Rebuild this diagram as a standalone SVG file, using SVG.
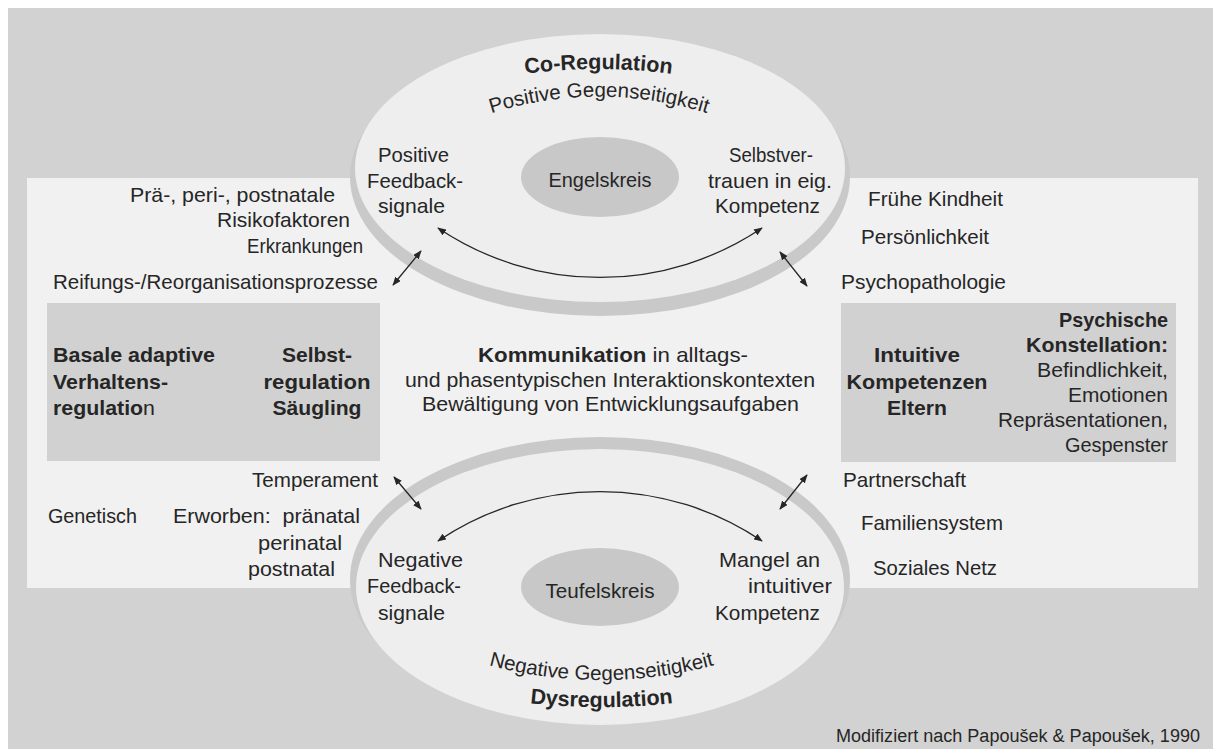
<svg xmlns="http://www.w3.org/2000/svg" width="1213" height="749" viewBox="0 0 1213 749">
<style>
  text { font-family: "Liberation Sans", Arial, sans-serif; fill: #262626; font-size: 21px; }
  .b { font-weight: bold; font-size: 21px; }
  .m { text-anchor: middle; }
  .e { text-anchor: end; }
  .ring { fill: #c9c9c9; }
  .disc { fill: #eeeeee; }
  .core { fill: #c8c8c8; }
  .box { fill: #d1d1d1; }
  .con { fill: none; stroke: #262626; stroke-width: 1.3; marker-start: url(#ah); marker-end: url(#ah); }
</style>
<defs>
  <marker id="ah" viewBox="0 0 10 8" refX="9" refY="4" markerWidth="9" markerHeight="7" markerUnits="userSpaceOnUse" orient="auto-start-reverse">
    <path d="M0,0 L10,4 L0,8 z" fill="#262626"/>
  </marker>
  <path id="arcCo" d="M 468.5,84.6 A 550,550 0 0,1 728.5,84.6"/>
  <path id="arcPos" d="M 469,121 A 360,360 0 0,1 729,121"/>
  <path id="arcNeg" d="M 471.5,660 A 430,430 0 0,0 731.5,660"/>
  <path id="arcDys" d="M 471.5,694 A 650,650 0 0,0 731.5,694"/>
</defs>

<rect x="0" y="0" width="1213" height="749" fill="#ffffff"/>
<rect x="8" y="8" width="1205" height="741" fill="#d2d2d2"/>
<rect id="panel" x="27" y="178" width="1171" height="410" fill="#f1f1f1"/>

<g id="box-left">
  <rect class="box" x="47" y="303" width="333" height="158"/>
  <text class="b" x="53" y="362" textLength="162" lengthAdjust="spacingAndGlyphs">Basale adaptive</text>
  <text class="b" x="53" y="389" textLength="115" lengthAdjust="spacingAndGlyphs">Verhaltens-</text>
  <text x="53" y="415" textLength="102" lengthAdjust="spacingAndGlyphs"><tspan class="b">regulatio</tspan>n</text>
  <text class="b m" x="317" y="362" textLength="70" lengthAdjust="spacingAndGlyphs">Selbst-</text>
  <text class="b m" x="317" y="389" textLength="107" lengthAdjust="spacingAndGlyphs">regulation</text>
  <text class="b m" x="317" y="415" textLength="89" lengthAdjust="spacingAndGlyphs">Säugling</text>
</g>

<g id="box-right">
  <rect class="box" x="841" y="303" width="335" height="159"/>
  <text class="b m" x="917" y="362" textLength="86" lengthAdjust="spacingAndGlyphs">Intuitive</text>
  <text class="b m" x="917" y="389" textLength="141" lengthAdjust="spacingAndGlyphs">Kompetenzen</text>
  <text class="b m" x="917" y="415" textLength="60" lengthAdjust="spacingAndGlyphs">Eltern</text>
  <text class="b e" x="1168" y="327" textLength="109" lengthAdjust="spacingAndGlyphs">Psychische</text>
  <text class="b e" x="1168" y="352" textLength="142" lengthAdjust="spacingAndGlyphs">Konstellation:</text>
  <text class="e" x="1168" y="377" textLength="131" lengthAdjust="spacingAndGlyphs">Befindlichkeit,</text>
  <text class="e" x="1168" y="402" textLength="100" lengthAdjust="spacingAndGlyphs">Emotionen</text>
  <text class="e" x="1168" y="427" textLength="170" lengthAdjust="spacingAndGlyphs">Repräsentationen,</text>
  <text class="e" x="1168" y="452" textLength="103" lengthAdjust="spacingAndGlyphs">Gespenster</text>
</g>

<g id="engelskreis">
  <ellipse class="ring" cx="600" cy="177" rx="250" ry="139"/>
  <ellipse class="disc" cx="600" cy="168" rx="245" ry="134"/>
  <ellipse class="core" cx="600" cy="177" rx="79" ry="40"/>
  <text class="m" x="600" y="187" textLength="103" lengthAdjust="spacingAndGlyphs">Engelskreis</text>
  <text class="b" style="font-size:21.5px"><textPath href="#arcCo" startOffset="50%" text-anchor="middle">Co-Regulation</textPath></text>
  <text style="font-size:20.5px"><textPath href="#arcPos" startOffset="50%" text-anchor="middle">Positive Gegenseitigkeit</textPath></text>
  <text x="378" y="162" textLength="71" lengthAdjust="spacingAndGlyphs">Positive</text>
  <text x="367" y="188" textLength="96" lengthAdjust="spacingAndGlyphs">Feedback-</text>
  <text x="378" y="213" textLength="67" lengthAdjust="spacingAndGlyphs">signale</text>
  <text x="729" y="162" textLength="84" lengthAdjust="spacingAndGlyphs">Selbstver-</text>
  <text x="708" y="188" textLength="124" lengthAdjust="spacingAndGlyphs">trauen in eig.</text>
  <text x="715" y="213" textLength="105" lengthAdjust="spacingAndGlyphs">Kompetenz</text>
</g>

<g id="teufelskreis">
  <ellipse class="ring" cx="600" cy="579" rx="250" ry="142"/>
  <ellipse class="disc" cx="600" cy="587" rx="244" ry="138"/>
  <ellipse class="core" cx="600" cy="587" rx="79" ry="39"/>
  <text class="m" x="600" y="598" textLength="109" lengthAdjust="spacingAndGlyphs">Teufelskreis</text>
  <text style="font-size:20.5px"><textPath href="#arcNeg" startOffset="50%" text-anchor="middle">Negative Gegenseitigkeit</textPath></text>
  <text class="b" style="font-size:21.5px"><textPath href="#arcDys" startOffset="50%" text-anchor="middle">Dysregulation</textPath></text>
  <text x="378" y="567" textLength="85" lengthAdjust="spacingAndGlyphs">Negative</text>
  <text x="367" y="593" textLength="94" lengthAdjust="spacingAndGlyphs">Feedback-</text>
  <text x="378" y="620" textLength="67" lengthAdjust="spacingAndGlyphs">signale</text>
  <text x="719" y="567" textLength="101" lengthAdjust="spacingAndGlyphs">Mangel an</text>
  <text x="748" y="593" textLength="84" lengthAdjust="spacingAndGlyphs">intuitiver</text>
  <text x="715" y="620" textLength="105" lengthAdjust="spacingAndGlyphs">Kompetenz</text>
</g>

<g id="kommunikation">
  <text x="478" y="362" textLength="270" lengthAdjust="spacingAndGlyphs"><tspan class="b">Kommunikation</tspan> in alltags-</text>
  <text x="405" y="387" textLength="410" lengthAdjust="spacingAndGlyphs">und phasentypischen Interaktionskontexten</text>
  <text x="422" y="411" textLength="377" lengthAdjust="spacingAndGlyphs">Bewältigung von Entwicklungsaufgaben</text>
</g>

<g id="factors-infant-top">
  <text x="130" y="202" textLength="205" lengthAdjust="spacingAndGlyphs">Prä-, peri-, postnatale</text>
  <text x="217" y="227" textLength="133" lengthAdjust="spacingAndGlyphs">Risikofaktoren</text>
  <text x="247" y="253" textLength="116" lengthAdjust="spacingAndGlyphs">Erkrankungen</text>
  <text x="53" y="289" textLength="325" lengthAdjust="spacingAndGlyphs">Reifungs-/Reorganisationsprozesse</text>
</g>

<g id="factors-parent-top">
  <text x="868" y="206" textLength="135" lengthAdjust="spacingAndGlyphs">Frühe Kindheit</text>
  <text x="861" y="244" textLength="128" lengthAdjust="spacingAndGlyphs">Persönlichkeit</text>
  <text x="841" y="289" textLength="165" lengthAdjust="spacingAndGlyphs">Psychopathologie</text>
</g>

<g id="factors-infant-bottom">
  <text x="252" y="487" textLength="126" lengthAdjust="spacingAndGlyphs">Temperament</text>
  <text x="48" y="523" textLength="89" lengthAdjust="spacingAndGlyphs">Genetisch</text>
  <text x="173" y="523" textLength="187" lengthAdjust="spacingAndGlyphs" xml:space="preserve">Erworben:  pränatal</text>
  <text x="258" y="550" textLength="84" lengthAdjust="spacingAndGlyphs">perinatal</text>
  <text x="248" y="576" textLength="87" lengthAdjust="spacingAndGlyphs">postnatal</text>
</g>

<g id="factors-parent-bottom">
  <text x="843" y="487" textLength="123" lengthAdjust="spacingAndGlyphs">Partnerschaft</text>
  <text x="861" y="530" textLength="142" lengthAdjust="spacingAndGlyphs">Familiensystem</text>
  <text x="873" y="575" textLength="124" lengthAdjust="spacingAndGlyphs">Soziales Netz</text>
</g>

<g id="connectors">
  <path class="con" d="M 438,228 A 290,290 0 0,0 762,228"/>
  <path class="con" d="M 438,541 A 290,290 0 0,1 762,541"/>
  <line class="con" x1="393" y1="285" x2="421" y2="251"/>
  <line class="con" x1="780" y1="252" x2="807" y2="286"/>
  <line class="con" x1="394" y1="477" x2="421" y2="509"/>
  <line class="con" x1="780" y1="509" x2="807" y2="475"/>
</g>

<g id="credit">
  <text class="e" x="1200" y="742" style="font-size:18px" textLength="364" lengthAdjust="spacingAndGlyphs">Modifiziert nach Papoušek &amp; Papoušek, 1990</text>
</g>
</svg>
